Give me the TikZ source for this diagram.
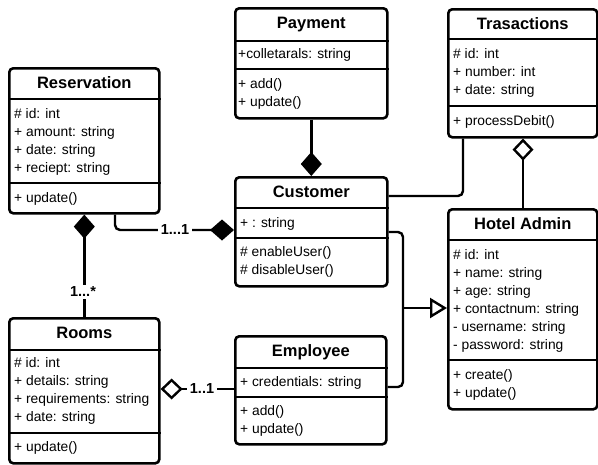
\documentclass[tikz,border=0pt]{standalone}
\usepackage{fontspec}
\setmainfont{Liberation Sans}
\usetikzlibrary{arrows.meta}

\tikzset{
  umlbox/.style={draw, line width=2.6pt, rounded corners=4pt, fill=white,
    inner sep=0pt, anchor=north west},
  divider/.style={line width=2.6pt},
  classtitle/.style={font=\fontsize{16.5}{19}\selectfont\bfseries, anchor=base, inner sep=0pt},
  member/.style={font=\fontsize{13.8}{18}\selectfont, anchor=base west, inner sep=0pt},
  conn/.style={line width=2.4pt, rounded corners=5pt},
  mult/.style={font=\fontsize{14.5}{17}\selectfont\bfseries, fill=white, inner sep=2.5pt},
  composite/.style={-{Diamond[length=24pt,width=21pt]}},
  shared/.style={-{Diamond[open,fill=white,length=22pt,width=21pt]}},
  inherits/.style={-{Triangle[open,fill=white,length=17pt,width=20pt]}},
}

% class box: name, left, top, width, height, header rule, method rule, title
\newcommand\umlclass[8]{%
  \node[umlbox, minimum width=#4pt, minimum height=#5pt] (#1) at (#2,#3) {};
  \draw[divider] (#1.west |- 0,#6) -- (#1.east |- 0,#6);
  \draw[divider] (#1.west |- 0,#7) -- (#1.east |- 0,#7);
  \node[classtitle] (#1-t) at ([yshift=-21pt]#1.north) {#8};
}
% compartment lines: name prefix, left, first baseline, entries
\newcommand\umlmembers[4]{%
  \foreach \entry [count=\k from 0] in {#4} {
    \node[member] (#1\k) at (#2, {#3+18*\k}) {\entry};
  }
}

\begin{document}
\begin{tikzpicture}[x=1pt, y=-1pt]
\fill[white] (0,0) rectangle (598,464);
\useasboundingbox (0,0) rectangle (598,464);

% classes
\umlclass{res}{8}{67}{150}{145}{99}{183}{Reservation}
\umlmembers{res-a}{14}{118}{\# id: int, + amount: string, + date: string, + reciept: string}
\umlmembers{res-m}{14}{202}{+ update()}

\umlclass{pay}{234}{7}{152}{110}{41}{69}{Payment}
\umlmembers{pay-a}{238}{58}{+colletarals: string}
\umlmembers{pay-m}{238}{88}{+ add(), + update()}

\umlclass{tra}{447}{8}{149}{128}{39}{106}{Trasactions}
\umlmembers{tra-a}{453}{58}{\# id: int, + number: int, + date: string}
\umlmembers{tra-m}{453}{125}{+ processDebit()}

\umlclass{cus}{234}{176}{152}{109}{208}{238}{Customer}
\umlmembers{cus-a}{240}{227}{+ : string}
\umlmembers{cus-m}{240}{256}{\# enableUser(), \# disableUser()}

\umlclass{adm}{447}{208}{149}{200}{240}{360}{Hotel Admin}
\umlmembers{adm-a}{453}{259}{\# id: int, + name: string, + age: string, + contactnum: string, - username: string, - password: string}
\umlmembers{adm-m}{453}{379}{+ create(), + update()}

\umlclass{rooms}{8}{317}{150}{145}{350}{433}{Rooms}
\umlmembers{rooms-a}{14}{367}{\# id: int, + details: string, + requirements: string, + date: string}
\umlmembers{rooms-m}{14}{451}{+ update()}

\umlclass{emp}{234}{335}{151}{108}{368}{397}{Employee}
\umlmembers{emp-a}{240}{386}{+ credentials: string}
\umlmembers{emp-m}{240}{415}{+ add(), + update()}

% relations
\draw[conn, composite] (pay.south) -- (cus.north);
\draw[conn, composite] (res.south -| 115,0) |- (cus.west |- 0,230);
\node[mult] (m-rescus) at (175,230) {1...1};

\draw[conn, composite] (rooms.north) -- (res.south);
\node[mult] (m-resroom) at (83,292) {1...*};

\draw[conn] (tra.south -| 463,0) |- (cus.east |- 0,196);
\draw[conn, shared] (adm.north -| 523,0) -- (tra.south -| 523,0);

\coordinate (gen) at (403,308);
\draw[conn] (cus.east |- 0,232) -| (gen) |- (emp.east |- 0,387);
\draw[conn, inherits] (gen) -- (adm.west |- gen);

\draw[conn, shared] (emp.west |- 0,389) -- (rooms.east |- 0,389);
\node[mult] (m-roomemp) at (202,389) {1..1};
\end{tikzpicture}
\end{document}
